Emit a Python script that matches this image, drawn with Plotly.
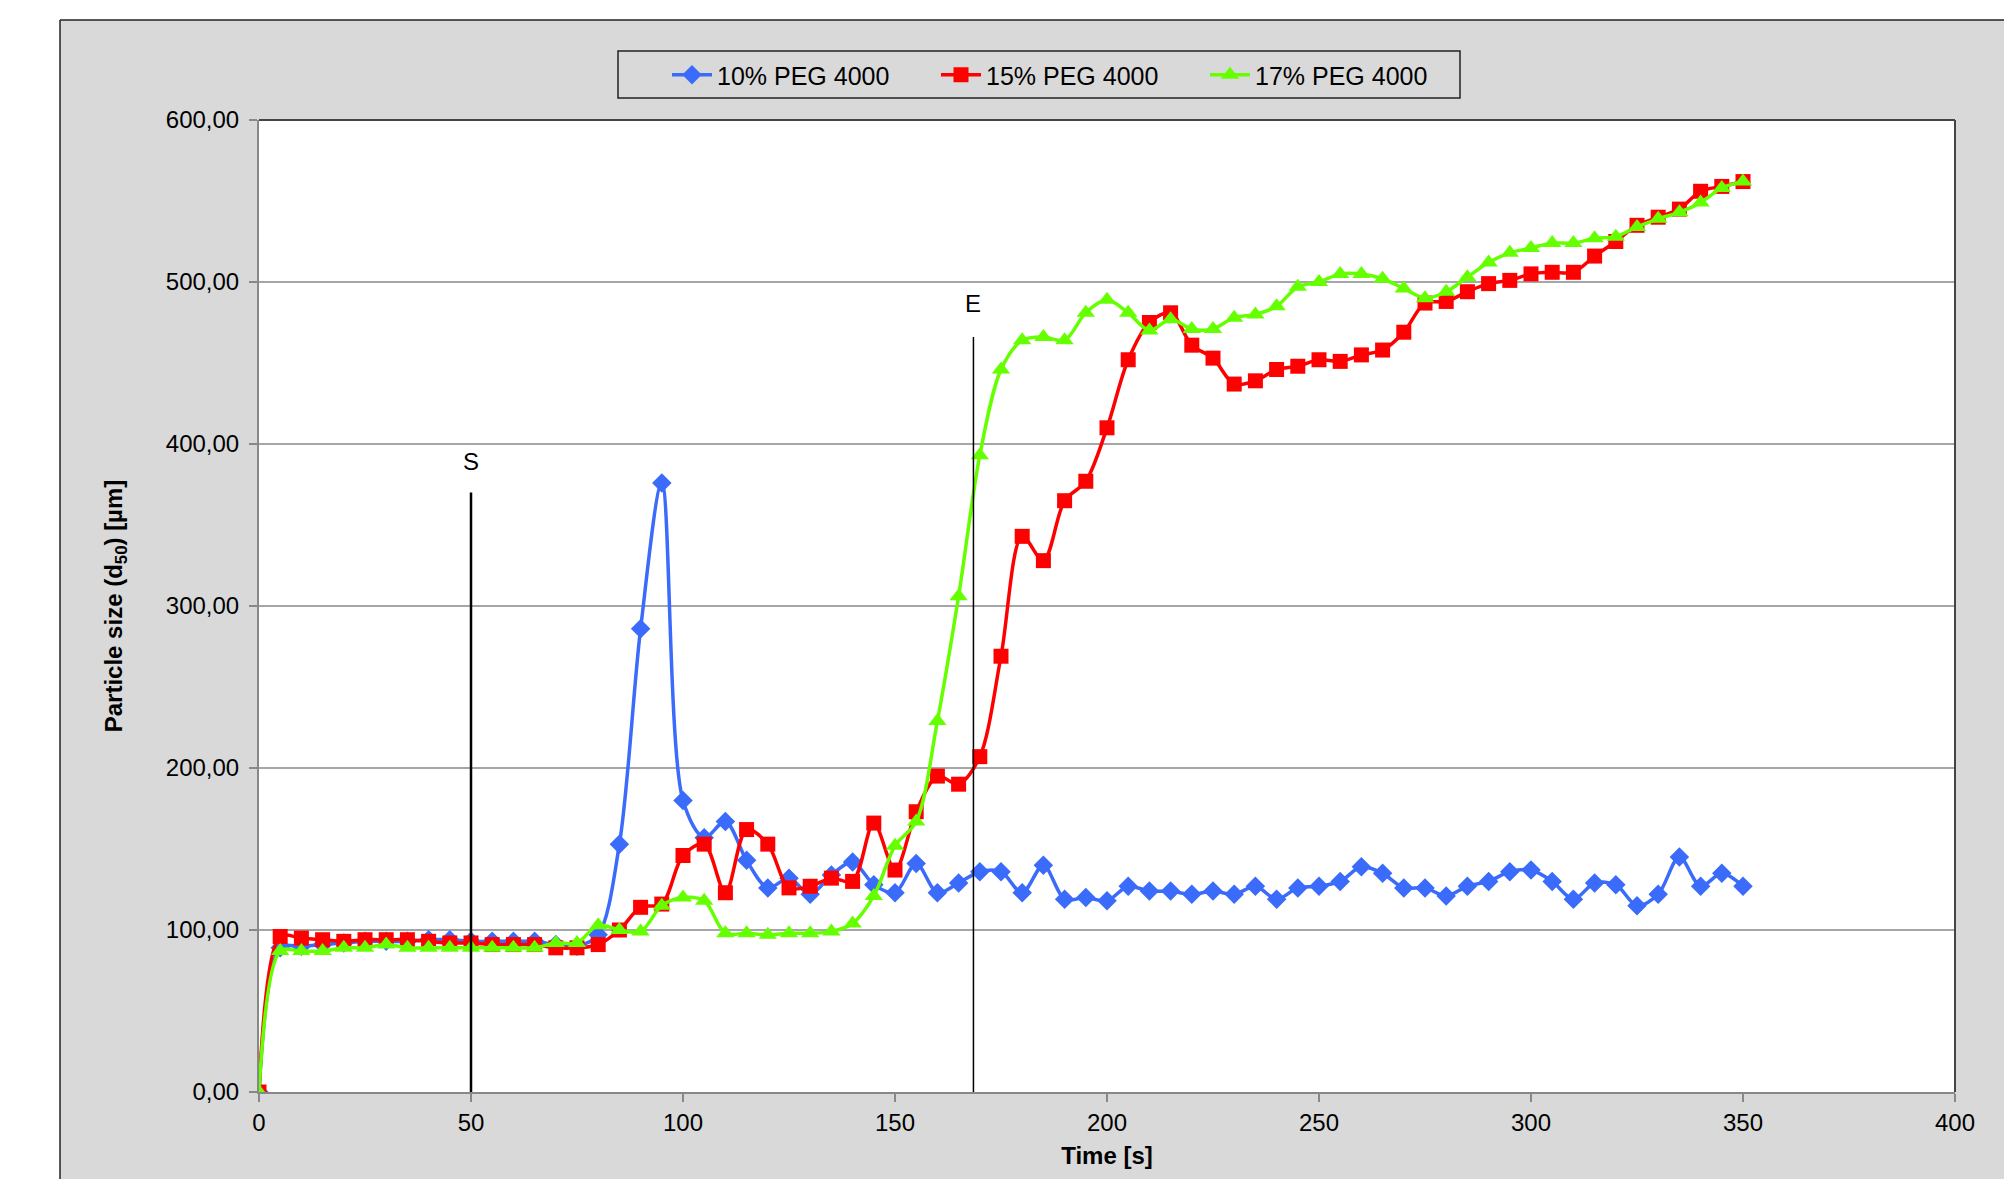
import plotly.graph_objects as go

time_s = list(range(0, 355, 5))

peg10 = [0, 89, 90, 91, 92, 93, 93, 93, 94, 94, 93, 93, 93, 93, 91, 90, 97,
         153, 286, 376, 180, 157, 167, 143, 126, 132, 122, 134, 142, 128, 123,
         141, 123, 129, 136, 136, 123, 140, 119, 120, 118, 127, 124, 124, 122,
         124, 122, 127, 119, 126, 127, 130, 139, 135, 126, 126, 121, 127, 130,
         136, 137, 130, 119, 129, 128, 115, 122, 145, 127, 135, 127]

peg15 = [0, 96, 95, 94, 93, 94, 94, 94, 93, 92, 92, 91, 91, 91, 89, 89, 91,
         100, 114, 116, 146, 153, 123, 162, 153, 126, 127, 132, 130, 166, 137,
         173, 195, 190, 207, 269, 343, 328, 365, 377, 410, 452, 475, 481, 461,
         453, 437, 439, 446, 448, 452, 451, 455, 458, 469, 487, 488, 494, 499,
         501, 505, 506, 506, 516, 525, 535, 540, 545, 556, 559, 562]

peg17 = [0, 87, 87, 87, 89, 89, 91, 89, 89, 89, 89, 89, 89, 89, 92, 92, 103,
         100, 99, 115, 120, 118, 98, 98, 97, 98, 98, 99, 104, 121, 152,
         167, 229, 306, 393, 446, 464, 466, 464, 481, 489, 481, 470, 477, 471,
         471, 478, 480, 485, 497, 500, 505, 505, 502, 496, 490, 494, 503, 512,
         518, 521, 524, 524, 527, 528, 534, 539, 543, 549, 558, 562]

series_names = ["10% PEG 4000", "15% PEG 4000", "17% PEG 4000"]
series_values = [peg10, peg15, peg17]
series_colors = ["#3A6BFA", "#FF0000", "#66FF00"]
series_symbols = ["diamond", "square", "triangle-up"]
series_sizes = [15, 15, 16]

marker_names = ["S", "E"]
marker_x = [50, 168.5]
marker_top = [370, 466]
marker_label_y = [389, 487]
marker_widths = [2.5, 1.5]

y_ticks = [0, 100, 200, 300, 400, 500, 600]
x_ticks = [0, 50, 100, 150, 200, 250, 300, 350, 400]

FONT = "Liberation Sans, Arial, sans-serif"

fig = go.Figure()
for name, vals, col, sym, sz in zip(series_names, series_values, series_colors,
                                    series_symbols, series_sizes):
    fig.add_trace(go.Scatter(
        x=time_s, y=vals, name=name, mode="lines+markers",
        line=dict(color=col, width=3.5, shape="spline", smoothing=0.9),
        marker=dict(symbol=sym, size=sz, color=col),
    ))

# page has an 8px body margin, so the figure is sized/offset accordingly
W, H = 2004, 1171
L, R, T, B = 251, 57, 112, 87
pw, ph = W - L - R, H - T - B

def px2x(px):
    return (px - L) / pw

def py2y(py):
    return (H - B - py) / ph

GX, GY = 52, 12  # grey panel top-left corner in figure pixels

shapes = [
    dict(type="rect", xref="paper", yref="paper", x0=px2x(-5), x1=px2x(GX),
         y0=py2y(H + 5), y1=py2y(-5), fillcolor="white", line=dict(width=0),
         layer="below"),
    dict(type="rect", xref="paper", yref="paper", x0=px2x(-5), x1=px2x(W + 5),
         y0=py2y(GY), y1=py2y(-5), fillcolor="white", line=dict(width=0),
         layer="below"),
    dict(type="line", xref="paper", yref="paper", x0=px2x(GX), x1=px2x(GX),
         y0=py2y(GY), y1=py2y(H + 5), line=dict(color="#222222", width=1.5)),
    dict(type="line", xref="paper", yref="paper", x0=px2x(GX), x1=px2x(W + 5),
         y0=py2y(GY), y1=py2y(GY), line=dict(color="#222222", width=1.5)),
    # legend frame
    dict(type="rect", xref="paper", yref="paper", x0=px2x(610), x1=px2x(1452),
         y0=py2y(90), y1=py2y(43), line=dict(color="#222222", width=1.5),
         fillcolor="rgba(0,0,0,0)"),
]
annotations = []
for nm, xv, top, ly, lw in zip(marker_names, marker_x, marker_top,
                               marker_label_y, marker_widths):
    shapes.append(dict(type="line", xref="x", yref="y", x0=xv, x1=xv, y0=0,
                       y1=top, line=dict(color="black", width=lw)))
    annotations.append(dict(x=xv, y=ly, xref="x", yref="y", text=nm,
                            showarrow=False, font=dict(size=24, color="black",
                                                        family=FONT)))

fig.update_layout(
    width=W, height=H,
    margin=dict(l=L, r=R, t=T, b=B, pad=0),
    paper_bgcolor="#D9D9D9",
    plot_bgcolor="white",
    separators=",.",
    font=dict(family=FONT, size=24, color="black"),
    shapes=shapes,
    annotations=annotations,
    showlegend=True,
    legend=dict(
        orientation="h", x=px2x(659), xanchor="left", y=py2y(44),
        yanchor="top", bgcolor="rgba(0,0,0,0)", borderwidth=0,
        font=dict(size=25, family=FONT),
        entrywidth=214, itemwidth=40,
    ),
    xaxis=dict(
        range=[0, 400], tickvals=x_ticks, showgrid=False, zeroline=False,
        showline=True, linecolor="#888888", linewidth=2, mirror=False,
        ticks="outside", ticklen=8, tickcolor="#888888", tickwidth=1.5,
        tickfont=dict(size=24), title=dict(text="<b>Time [s]</b>",
                                           font=dict(size=24), standoff=12),
    ),
    yaxis=dict(
        range=[0, 600], tickvals=y_ticks, tickformat=".2f", showgrid=True,
        gridcolor="#A6A6A6", gridwidth=2, zeroline=False, showline=True,
        linecolor="#888888", linewidth=2, ticks="outside", ticklen=8,
        tickcolor="#888888", tickwidth=1.5, tickfont=dict(size=24),
        ticklabelstandoff=5,
        title=dict(text="<b>Particle size (d<sub>50</sub>) [µm]</b>",
                   font=dict(size=24), standoff=36),
    ),
)
fig.add_shape(type="line", xref="paper", yref="paper", x0=0, x1=1, y0=1, y1=1,
              line=dict(color="#444444", width=2))
fig.add_shape(type="line", xref="paper", yref="paper", x0=1, x1=1, y0=0, y1=1,
              line=dict(color="#444444", width=2))

fig.write_html("out.html")
